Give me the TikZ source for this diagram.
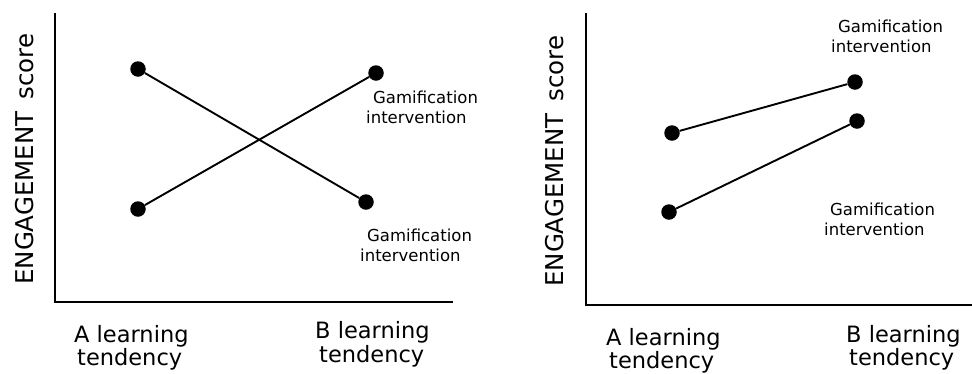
\documentclass[tikz,border=0pt]{standalone}
\usepackage{fontspec}
\setmainfont{DejaVu Sans}
\begin{document}
\begin{tikzpicture}[x=1pt,y=-1pt,
  axis/.style={line width=2pt},
  conn/.style={line width=1.9pt},
  dot/.style={circle,fill=black,inner sep=0pt,minimum size=15.5pt},
  gam/.style={anchor=base west,inner sep=0pt,font=\fontsize{16.5}{19}\selectfont},
  tick/.style={anchor=base west,inner sep=0pt,font=\fontsize{22.5}{26}\selectfont},
  ylab/.style={anchor=base west,inner sep=0pt,rotate=90,font=\fontsize{24.5}{28}\selectfont}]
\useasboundingbox (0,0) rectangle (972,373);
% left panel
\coordinate (lo) at (55,302);
\coordinate (ltop) at (55,13);
\coordinate (lright) at (453,302);
\draw[axis] (ltop) -- (lo) -- (lright);
\node[dot] (la1) at (138,69) {};
\node[dot] (lb1) at (366,202) {};
\node[dot] (la2) at (138,209) {};
\node[dot] (lb2) at (376,73) {};
\draw[conn] (la1) -- (lb1);
\draw[conn] (la2) -- (lb2);
\node[gam] (lg1) at (373,103.5) {Gamification};
\node[gam] (lg2) at (366,123) {intervention};
\node[gam] (lg3) at (367,241) {Gamification};
\node[gam] (lg4) at (360,261) {intervention};
\node[tick] (lxa1) at (74,342) {A learning};
\node[tick] (lxa2) at (77,365) {tendency};
\node[tick] (lxb1) at (315,338) {B learning};
\node[tick] (lxb2) at (319,362) {tendency};
\node[ylab] (ly) at (33,285) {ENGAGEMENT\ \hspace{4pt}score};
% right panel
\coordinate (ro) at (586,305);
\coordinate (rtop) at (586,13);
\coordinate (rright) at (972,305);
\draw[axis] (rtop) -- (ro) -- (rright);
\node[dot] (ra1) at (672,133) {};
\node[dot] (rb1) at (855,82) {};
\node[dot] (ra2) at (669,212) {};
\node[dot] (rb2) at (857,121) {};
\draw[conn] (ra1) -- (rb1);
\draw[conn] (ra2) -- (rb2);
\node[gam] (rg1) at (838,32) {Gamification};
\node[gam] (rg2) at (831,52) {intervention};
\node[gam] (rg3) at (830,215) {Gamification};
\node[gam] (rg4) at (824,235) {intervention};
\node[tick] (rxa1) at (606,345) {A learning};
\node[tick] (rxa2) at (609,368) {tendency};
\node[tick] (rxb1) at (846,342) {B learning};
\node[tick] (rxb2) at (849,365) {tendency};
\node[ylab] (ry) at (563,287) {ENGAGEMENT\ \hspace{4pt}score};
\end{tikzpicture}
\end{document}
